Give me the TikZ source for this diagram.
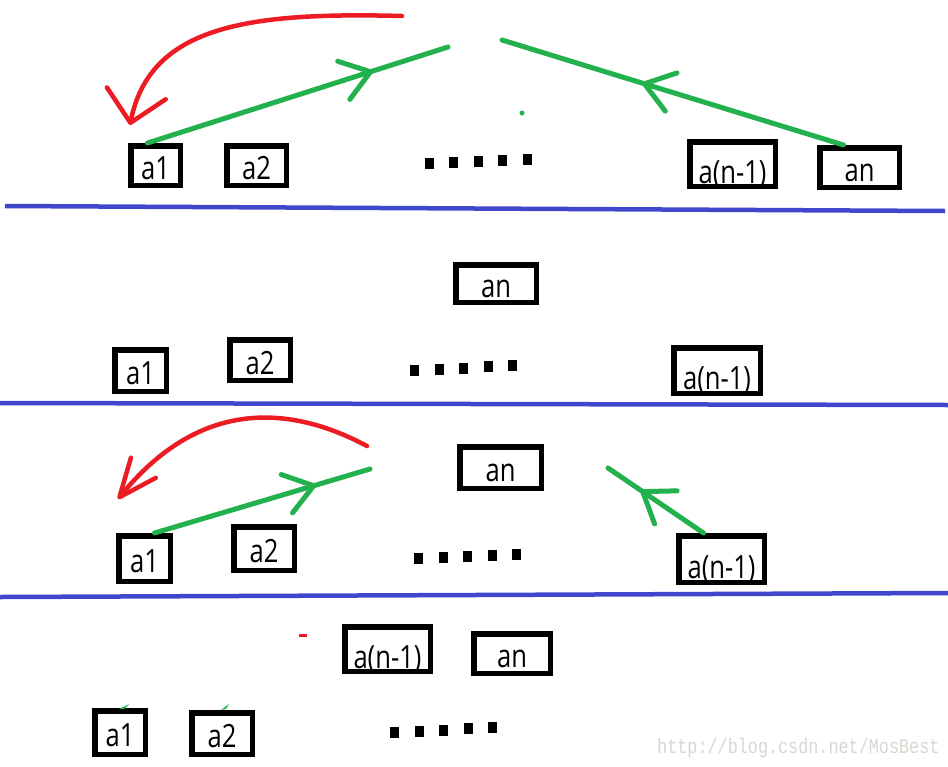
\documentclass[tikz,border=0pt]{standalone}
\usepackage{fontspec}
\setmainfont{Open Sans}
\newfontfamily\boxfont[FakeStretch=0.8]{Open Sans}
\newfontfamily\urlfont[FakeStretch=0.8]{Liberation Mono}
\usetikzlibrary{arrows.meta,decorations.markings}
\definecolor{paintgreen}{RGB}{34,177,76}
\definecolor{paintred}{RGB}{237,28,36}
\definecolor{paintblue}{RGB}{63,72,204}
\definecolor{urlgray}{RGB}{216,214,208}

\begin{document}
\begin{tikzpicture}[
        x=1pt, y=-1pt,
        every node/.style={font=\boxfont\fontsize{32}{34}\selectfont},
        cell/.style={rectangle, draw, line width=5.5pt, inner sep=0pt, text height=28pt, text depth=0pt},
        widecell/.style={cell, text height=38pt},
        boxsize/.style 2 args={minimum width=#1pt, minimum height=#2pt},
        sepline/.style={paintblue, line width=4.5pt},
        greenline/.style={paintgreen, line width=5pt, line cap=round},
        redcurve/.style={paintred, line width=4.5pt, line cap=round},
        midarrow/.style={postaction={decorate}, decoration={markings,
            mark=at position #1 with {\arrow{Straight Barb[round, length=28pt, width=40pt, line width=5pt]}}}}
    ]
        \useasboundingbox (0,0) rectangle (948,766);

        \node[cell, boxsize={49.5}{39.5}] (r1a1) at (155.5,165.5) {a1};
        \node[cell, boxsize={59.5}{39.5}] (r1a2) at (256.5,165.5) {a2};
        \node[widecell, boxsize={85.5}{44.5}] (r1an1) at (732.5,164) {a(n-1)};
        \node[cell, boxsize={79.5}{39.5}] (r1an) at (859.5,167.5) {an};

        \node[cell, boxsize={80.5}{37.5}] (r2an) at (496,283.5) {an};
        \node[cell, boxsize={51.5}{41.5}] (r2a1) at (140.5,370.5) {a1};
        \node[cell, boxsize={60.5}{40.5}] (r2a2) at (260,360) {a2};
        \node[widecell, boxsize={86.5}{45.5}] (r2an1) at (717,370.5) {a(n-1)};

        \node[cell, boxsize={81.5}{41.5}] (r3an) at (500.5,467.5) {an};
        \node[cell, boxsize={51.5}{45.5}] (r3a1) at (144.5,558.5) {a1};
        \node[cell, boxsize={60.5}{43.5}] (r3a2) at (264,548.5) {a2};
        \node[widecell, boxsize={85.5}{46.5}] (r3an1) at (721.5,559) {a(n-1)};

        \node[widecell, boxsize={85.5}{44.5}] (r4an1) at (387.5,649) {a(n-1)};
        \node[cell, boxsize={76.5}{39.5}] (r4an) at (512,653.5) {an};
        \node[cell, boxsize={50.5}{43.5}] (r4a1) at (120,732.5) {a1};
        \node[cell, boxsize={60.5}{41.5}] (r4a2) at (222,733.5) {a2};

        \foreach \x/\y/\dy in {429/163.5/1, 414.5/370.5/1.25, 418.5/558/1, 394.5/732.5/1.25}
            \foreach \i in {0,...,4}
                \fill ({\x+24.5*\i-4.5},{\y-\dy*\i-5.5}) rectangle ++(9,11);

        \draw[sepline] (5,206) -- (945,211);
        \draw[sepline] (0,403) -- (948,405);
        \draw[sepline] (0,597) -- (948,593);

        \coordinate (g1top) at (448,47);
        \coordinate (g2top) at (502,40);
        \coordinate (g3top) at (370,469);
        \coordinate (g4top) at (608,468);
        \coordinate (red1from) at (402,16);
        \coordinate (red1to) at (130,125);
        \coordinate (red3from) at (367,446);
        \coordinate (red3to) at (118,499);

        \draw[greenline, midarrow=0.75] ([xshift=-8pt]r1a1.north) -- (g1top);
        \draw[greenline, midarrow=0.59] ([xshift=-16pt]r1an.north) -- (g2top);
        \draw[redcurve, -{Straight Barb[round, length=30pt, width=60pt]}] (red1from) .. controls (250,12) and (150,25) .. (red1to);

        \draw[greenline, midarrow=0.75] ([xshift=10pt]r3a1.north) -- (g3top);
        \draw[greenline, midarrow=0.66] ([xshift=-18pt]r3an1.north) -- (g4top);
        \draw[redcurve, -{Straight Barb[round, length=38pt, width=32pt]}] (red3from) .. controls (290,405) and (200,398) .. (red3to);

        \fill[paintgreen] (522,113) circle (2.5);
        \fill[paintgreen] (119,709) -- (129,704) -- (124,709) -- cycle;
        \fill[paintgreen] (221,710) -- (229,704) -- (226,709) -- cycle;
        \fill[paintred] (299,634) rectangle ++(8,3);

        \node[font=\urlfont\fontsize{21}{22}\selectfont, text=urlgray, anchor=base west, inner sep=0pt] (url) at (657,753) {http://blog.csdn.net/MosBest};
    \end{tikzpicture}
\end{document}
